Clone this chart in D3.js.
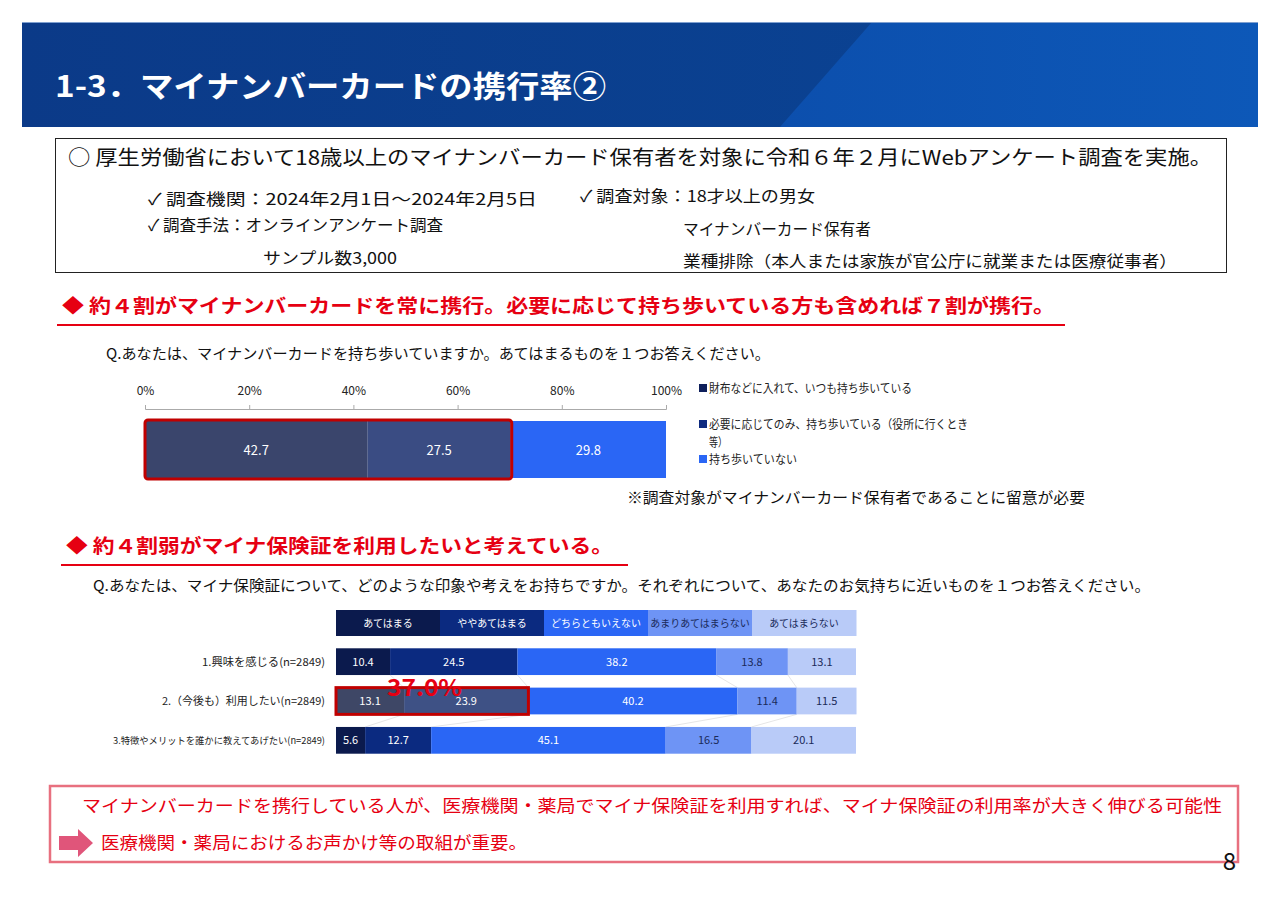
<!DOCTYPE html>
<html>
<head>
<meta charset="utf-8">
<script src="https://cdn.jsdelivr.net/npm/d3@7"></script>
<style>
  body { margin: 0; background: #fff; }
  svg text { font-family: "Noto Sans CJK JP", "Noto Sans", sans-serif; }
</style>
</head>
<body>
<div id="page"></div>
<script>
// chart 1: carrying the card
const carryLabels = ["財布などに入れて、いつも持ち歩いている", "必要に応じてのみ、持ち歩いている（役所に行くとき", "持ち歩いていない"];
const carryValues = [42.7, 27.5, 29.8];
const carryColors = ["#0e1f5b", "#0e2a7f", "#2a66f5"];
const axisTicks = [0, 20, 40, 60, 80, 100];

// chart 2: マイナ保険証
const answerLabels = ["あてはまる", "ややあてはまる", "どちらともいえない", "あまりあてはまらない", "あてはまらない"];
const answerColors = ["#0b1a4d", "#0b2a80", "#2a66f5", "#6e94f5", "#b9cbf8"];
const answerText = ["#fff", "#fff", "#fff", "#1a2a5a", "#1a2a5a"];
const questions = ["1.興味を感じる(n=2849)", "2.（今後も）利用したい(n=2849)", "3.特徴やメリットを誰かに教えてあげたい(n=2849)"];
const questionWidths = [123, 163, 212];
const q1 = [10.4, 24.5, 38.2, 13.8, 13.1];
const q2 = [13.1, 23.9, 40.2, 11.4, 11.5];
const q3 = [5.6, 12.7, 45.1, 16.5, 20.1];
const rows = [q1, q2, q3];

const w = 1280, h = 905;
const svg = d3.select("#page").append("svg").attr("width", w).attr("height", h);

// text helper, stretched to the width measured on the slide
const txt = (x, y, size, s, len, fill = "#111", bold = false) => {
  const t = svg.append("text").attr("x", x).attr("y", y).attr("font-size", size)
    .attr("fill", fill).text(s);
  if (bold) t.attr("font-weight", "bold");
  if (len) t.attr("textLength", len).attr("lengthAdjust", "spacingAndGlyphs");
  return t;
};

// ---- header band
const defs = svg.append("defs");
const grad = defs.append("linearGradient").attr("id", "hg").attr("x1", 0).attr("x2", 1);
grad.append("stop").attr("offset", 0).attr("stop-color", "#0b3a88");
grad.append("stop").attr("offset", 1).attr("stop-color", "#0a4596");
const grad2 = defs.append("linearGradient").attr("id", "hg2").attr("x1", 0).attr("x2", 1);
grad2.append("stop").attr("offset", 0).attr("stop-color", "#0c4fad");
grad2.append("stop").attr("offset", 1).attr("stop-color", "#0d58b8");

svg.append("rect").attr("x", 22).attr("y", 22).attr("width", 1236).attr("height", 105).attr("fill", "url(#hg)");
svg.append("path").attr("d", "M872,22 L1258,22 L1258,127 L780,127 Z").attr("fill", "url(#hg2)");
svg.append("line").attr("x1", 22).attr("x2", 1258).attr("y1", 22.5).attr("y2", 22.5).attr("stroke", "#7fa0d0");
txt(55, 97, 30, "1-3．マイナンバーカードの携行率②", 551, "#fff", true);

// ---- info box
svg.append("rect").attr("x", 55.5).attr("y", 138.5).attr("width", 1171).attr("height", 134)
  .attr("fill", "none").attr("stroke", "#222").attr("stroke-width", 1);
txt(68, 165, 20, "○ 厚生労働省において18歳以上のマイナンバーカード保有者を対象に令和６年２月にWebアンケート調査を実施。", 1144);
txt(148, 205, 16, "✓ 調査機関：2024年2月1日～2024年2月5日", 389);
txt(148, 231, 16, "✓ 調査手法：オンラインアンケート調査", 295);
txt(263, 264, 16, "サンプル数3,000", 134);
txt(580, 202, 16, "✓ 調査対象：18才以上の男女", 235);
txt(683, 235, 16, "マイナンバーカード保有者", 188);
txt(683, 267, 16, "業種排除（本人または家族が官公庁に就業または医療従事者）", 494);

// ---- headings
function heading(x, y, x2, s, len) {
  txt(x, y, 19, s, len, "#e60012", true);
  svg.append("line").attr("x1", x - 5).attr("x2", x2).attr("y1", y + 12).attr("y2", y + 12)
    .attr("stroke", "#e60012").attr("stroke-width", 2);
}
heading(62, 313, 1065, "◆ 約４割がマイナンバーカードを常に携行。必要に応じて持ち歩いている方も含めれば７割が携行。", 993);
heading(66, 553, 628, "◆ 約４割弱がマイナ保険証を利用したいと考えている。", 547);

txt(106, 359, 15, "Q.あなたは、マイナンバーカードを持ち歩いていますか。あてはまるものを１つお答えください。", 664);
txt(93, 591, 15, "Q.あなたは、マイナ保険証について、どのような印象や考えをお持ちですか。それぞれについて、あなたのお気持ちに近いものを１つお答えください。", 1057);

// ---- chart 1
const x1 = d3.scaleLinear().domain([0, 100]).range([145, 666]);
const axis1 = d3.axisTop(x1).tickValues(axisTicks).tickSize(4).tickFormat(d => d + "%");
const ax = svg.append("g").attr("transform", "translate(0,409)").call(axis1);
ax.select(".domain").attr("stroke", "#aaa").attr("d", "M145.5,-4V0.5H666.5V-4");
ax.selectAll(".tick line").attr("stroke", "#aaa");
ax.selectAll(".tick text").attr("font-size", 12).attr("fill", "#222").attr("dy", "-0.6em")
  .attr("font-family", "Noto Sans CJK JP");

let acc = 0;
const stack1 = carryValues.map((v, i) => { const s = { v, i, x0: acc, x1: acc + v }; acc += v; return s; });
svg.append("g").selectAll("rect").data(stack1).enter().append("rect")
  .attr("x", d => x1(d.x0)).attr("width", d => x1(d.x1) - x1(d.x0))
  .attr("y", 421).attr("height", 57).attr("fill", d => carryColors[d.i]);

// highlight 42.7 + 27.5
const hl1 = carryValues[0] + carryValues[1];
svg.append("rect").attr("x", x1(0)).attr("y", 420).attr("width", x1(hl1) - x1(0) + 1).attr("height", 59)
  .attr("rx", 3).attr("fill", "rgba(140,140,140,0.35)").attr("stroke", "#c00000").attr("stroke-width", 3);

svg.append("g").selectAll("text").data(stack1).enter().append("text")
  .attr("x", d => (x1(d.x0) + x1(d.x1)) / 2).attr("y", 455).attr("text-anchor", "middle")
  .attr("font-size", 13).attr("fill", "#fff").text(d => d.v.toFixed(1));

// legend 1
const leg1 = [[393, 0, 203], [429, 1, 259], [464, 2, 88]];
const lg = svg.append("g");
lg.selectAll("rect").data(leg1).enter().append("rect")
  .attr("x", 699).attr("y", d => d[0] - 9).attr("width", 8).attr("height", 8).attr("fill", d => carryColors[d[1]]);
leg1.forEach(d => txt(709, d[0], 12, carryLabels[d[1]], d[2], "#222"));
txt(709, 447, 12, "等）", 18, "#222");

txt(627, 503, 15, "※調査対象がマイナンバーカード保有者であることに留意が必要", 458);

// ---- chart 2
const x2 = d3.scaleLinear().domain([0, 100]).range([336, 856]);
const y2 = d3.scaleBand().domain(questions).range([642, 760]).paddingInner(0.32).paddingOuter(0.16);

// header legend bar (equal widths)
const hdr = svg.append("g");
const hx = d3.scaleBand().domain(answerLabels).range([336, 856]);
hdr.selectAll("rect").data(answerLabels).enter().append("rect")
  .attr("x", d => hx(d)).attr("width", hx.bandwidth() + 0.5).attr("y", 610).attr("height", 26)
  .attr("fill", (d, i) => answerColors[i]);
hdr.selectAll("text").data(answerLabels).enter().append("text")
  .attr("x", d => hx(d) + hx.bandwidth() / 2).attr("y", 627).attr("text-anchor", "middle")
  .attr("font-size", 10).attr("fill", (d, i) => answerText[i]).text(d => d);

const stacked = rows.map((r, ri) => {
  let a = 0;
  return r.map((v, i) => { const s = { v, i, ri, x0: a, x1: a + v }; a += v; return s; });
});

// series lines
const sl = svg.append("g").attr("stroke", "#e6e6e6").attr("stroke-width", 1);
for (let ri = 0; ri < rows.length - 1; ri++) {
  stacked[ri].slice(0, 4).forEach((s, k) => {
    sl.append("line")
      .attr("x1", x2(s.x1)).attr("y1", y2(questions[ri]) + y2.bandwidth())
      .attr("x2", x2(stacked[ri + 1][k].x1)).attr("y2", y2(questions[ri + 1]));
  });
}

const rg = svg.append("g").selectAll("g").data(stacked).enter().append("g");
rg.selectAll("rect").data(d => d).enter().append("rect")
  .attr("x", d => x2(d.x0)).attr("width", d => x2(d.x1) - x2(d.x0))
  .attr("y", d => y2(questions[d.ri])).attr("height", y2.bandwidth())
  .attr("fill", d => answerColors[d.i]);

// highlight row 2 first two segments
const hl2 = q2[0] + q2[1];
svg.append("rect").attr("x", x2(0)).attr("y", y2(questions[1])).attr("width", x2(hl2) - x2(0)).attr("height", y2.bandwidth())
  .attr("fill", "rgba(140,140,140,0.4)").attr("stroke", "#c00000").attr("stroke-width", 3);

const lbl = svg.append("g");
stacked.forEach(r => r.forEach(d => {
  lbl.append("text").attr("x", (x2(d.x0) + x2(d.x1)) / 2).attr("y", y2(questions[d.ri]) + y2.bandwidth() / 2 + 4)
    .attr("text-anchor", "middle").attr("font-size", 11).attr("fill", answerText[d.i]).text(d.v.toFixed(1));
}));
questions.forEach((q, i) => {
  const fs = i === 2 ? 9.6 : 11;
  txt(325 - questionWidths[i], y2(q) + y2.bandwidth() / 2 + 4, fs, q, questionWidths[i], "#222");
});

txt(387, 696, 23, hl2.toFixed(1) + "%", 75, "#e60012", true);

// ---- bottom box
svg.append("rect").attr("x", 50).attr("y", 786).attr("width", 1188).attr("height", 76)
  .attr("fill", "none").attr("stroke", "#e8707f").attr("stroke-width", 2.5);
txt(82, 812, 17.5, "マイナンバーカードを携行している人が、医療機関・薬局でマイナ保険証を利用すれば、マイナ保険証の利用率が大きく伸びる可能性", 1140, "#e60012");
svg.append("path").attr("d", "M59,836 H78 V829 L93,843 L78,857 V850 H59 Z").attr("fill", "#e0557a");
txt(101, 849, 17.5, "医療機関・薬局におけるお声かけ等の取組が重要。", 426, "#e60012");

svg.append("text").attr("x", 1236).attr("y", 870).attr("text-anchor", "end").attr("font-size", 24).attr("fill", "#111").text("8");
</script>
</body>
</html>
